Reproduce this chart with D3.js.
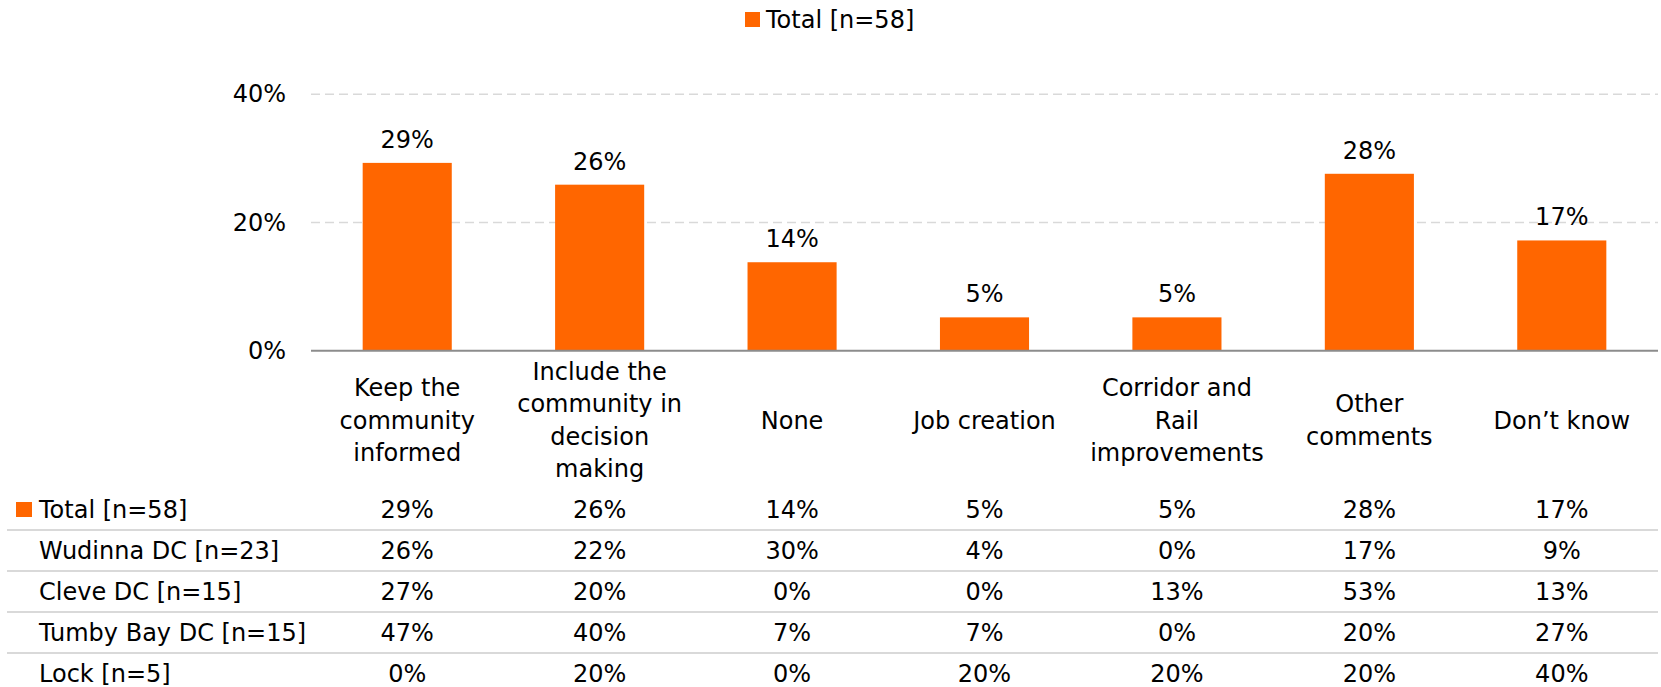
<!DOCTYPE html>
<html>
<head>
<meta charset="utf-8">
<script src="https://cdn.jsdelivr.net/npm/d3@7/dist/d3.min.js"></script>
<style>
  html, body { margin: 0; padding: 0; background: #fff; }
  svg { display: block; font-family: "DejaVu Sans", Verdana, sans-serif; }
</style>
</head>
<body>
<svg id="chart" width="1661" height="687"></svg>
<script>
// ---- Data ----
const categories = [
  "Keep the\ncommunity\ninformed",
  "Include the\ncommunity in\ndecision\nmaking",
  "None",
  "Job creation",
  "Corridor and\nRail\nimprovements",
  "Other\ncomments",
  "Don\u2019t know"
];
const totalSeriesName = "Total [n=58]";
const totalValues = [29.3, 25.9, 13.8, 5.2, 5.2, 27.6, 17.2];
const tableRowLabels = ["Total [n=58]", "Wudinna DC [n=23]", "Cleve DC [n=15]", "Tumby Bay DC [n=15]", "Lock [n=5]"];
const tableTotal   = [29, 26, 14, 5, 5, 28, 17];
const tableWudinna = [26, 22, 30, 4, 0, 17, 9];
const tableCleve   = [27, 20, 0, 0, 13, 53, 13];
const tableTumby   = [47, 40, 7, 7, 0, 20, 27];
const tableLock    = [0, 20, 0, 20, 20, 20, 40];
const yTicks = [0, 20, 40];

// ---- Layout ----
const W = 1661, H = 687;
const FS = 24;
const orange = "#FF6600";
const svg = d3.select("#chart");

const x = d3.scaleBand()
  .domain(d3.range(categories.length))
  .range([311, 1658])
  .paddingInner(0.537)
  .paddingOuter(0.537 / 2);

const y = d3.scaleLinear().domain([0, 40]).range([350.7, 94.3]);

// Gridlines
svg.append("g").selectAll("line")
  .data(yTicks.filter(t => t > 0))
  .join("line")
  .attr("x1", 311).attr("x2", 1658)
  .attr("y1", d => y(d)).attr("y2", d => y(d))
  .attr("stroke", "#d9d9d9").attr("stroke-width", 1.5)
  .attr("stroke-dasharray", "9,5");

// Y axis labels
const yAxis = d3.axisLeft(y).tickValues(yTicks).tickFormat(d => d + "%").tickSize(0).tickPadding(0);
const yg = svg.append("g").attr("transform", "translate(286,0)").call(yAxis);
yg.select(".domain").remove();
yg.selectAll("text").attr("font-size", FS).attr("font-family", "DejaVu Sans").attr("fill", "#000");

// Bars
svg.append("g").selectAll("rect")
  .data(totalValues)
  .join("rect")
  .attr("x", (d, i) => x(i))
  .attr("width", x.bandwidth())
  .attr("y", d => y(d))
  .attr("height", d => y(0) - y(d))
  .attr("fill", orange);

// Baseline axis
svg.append("line")
  .attr("x1", 311).attr("x2", 1658)
  .attr("y1", y(0)).attr("y2", y(0))
  .attr("stroke", "#8c8c8c").attr("stroke-width", 2);

// Bar value labels
svg.append("g").selectAll("text")
  .data(totalValues)
  .join("text")
  .attr("x", (d, i) => x(i) + x.bandwidth() / 2)
  .attr("y", d => y(d) - 15)
  .attr("text-anchor", "middle")
  .attr("font-size", FS)
  .attr("fill", "#000")
  .text(d => Math.round(d) + "%");

// Category labels
const lineH = 32.5, labelCenter = 420;
const cat = svg.append("g").selectAll("text")
  .data(categories)
  .join("text")
  .attr("text-anchor", "middle")
  .attr("font-size", FS)
  .attr("fill", "#000");
cat.each(function(d, i) {
  const lines = d.split("\n");
  const t = d3.select(this);
  const cx = x(i) + x.bandwidth() / 2;
  lines.forEach((ln, j) => {
    t.append("tspan")
      .attr("x", cx)
      .attr("y", labelCenter - (lines.length - 1) * lineH / 2 + j * lineH + 8.5)
      .text(ln);
  });
});

// Top legend
const lg = svg.append("g");
lg.append("rect").attr("x", 745).attr("y", 12).attr("width", 15).attr("height", 15).attr("fill", orange);
lg.append("text").attr("x", 766).attr("y", 27.5).attr("font-size", FS).attr("fill", "#000").text(totalSeriesName);

// Data table
const tableRows = [tableTotal, tableWudinna, tableCleve, tableTumby, tableLock];
const rowBase = 518, rowH = 41;
const tg = svg.append("g");
// separators
tg.selectAll("line.sep")
  .data(d3.range(tableRows.length - 1))
  .join("line")
  .attr("class", "sep")
  .attr("x1", 7).attr("x2", 1658)
  .attr("y1", i => 530 + i * rowH)
  .attr("y2", i => 530 + i * rowH)
  .attr("stroke", "#d9d9d9").attr("stroke-width", 2);
// legend key in table
tg.append("rect").attr("x", 16).attr("y", 502).attr("width", 16).attr("height", 15).attr("fill", orange);
// row labels
tg.selectAll("text.rl")
  .data(tableRowLabels)
  .join("text")
  .attr("class", "rl")
  .attr("x", 39)
  .attr("y", (d, i) => rowBase + i * rowH)
  .attr("font-size", FS)
  .attr("fill", "#000")
  .text(d => d);
// values
tableRows.forEach((row, r) => {
  tg.append("g").selectAll("text")
    .data(row)
    .join("text")
    .attr("x", (d, i) => x(i) + x.bandwidth() / 2)
    .attr("y", rowBase + r * rowH)
    .attr("text-anchor", "middle")
    .attr("font-size", FS)
    .attr("fill", "#000")
    .text(d => d + "%");
});
</script>
</body>
</html>
